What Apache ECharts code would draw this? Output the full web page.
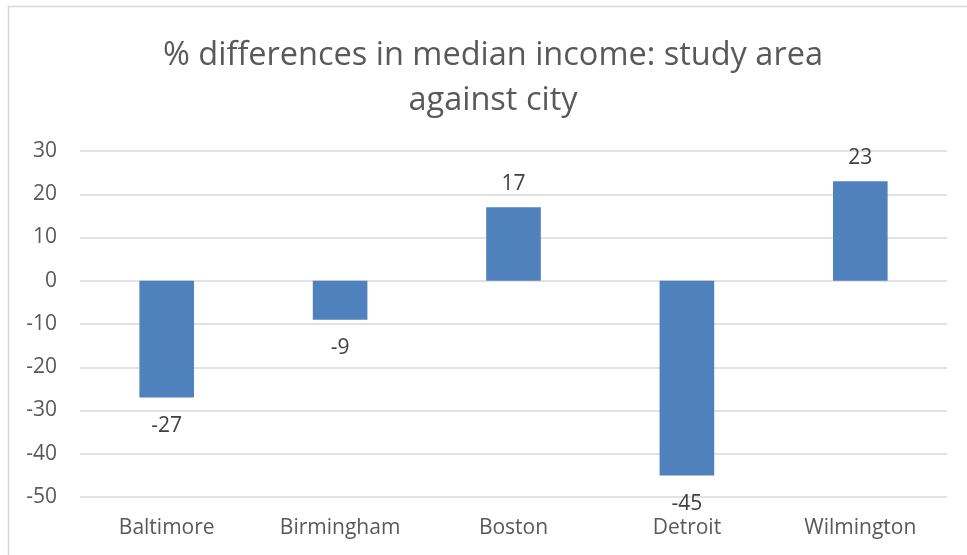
<!DOCTYPE html>
<html>
<head>
<meta charset="utf-8">
<script src="https://cdn.jsdelivr.net/npm/echarts@6/dist/echarts.min.js"></script>
<style>
  html, body { margin: 0; padding: 0; background: #fff; }
  #chart { width: 967px; height: 555px; }
</style>
</head>
<body>
<div id="chart"></div>
<script>
// data
var cities = ['Baltimore', 'Birmingham', 'Boston', 'Detroit', 'Wilmington'];
var diffs = [-27, -9, 17, -45, 23];
var yTicks = [-50, -40, -30, -20, -10, 0, 10, 20, 30];

var chart = echarts.init(document.getElementById('chart'));

var option = {
  animation: false,
  textStyle: { fontFamily: 'Open Sans' },
  title: {
    text: '% differences in median income: study area\nagainst city',
    left: 488,
    textAlign: 'center',
    top: 28,
    textStyle: {
      fontFamily: 'Open Sans',
      fontWeight: 'normal',
      fontSize: 32.5,
      lineHeight: 45,
      color: '#595959'
    }
  },
  graphic: [{
    type: 'rect',
    shape: { x: 8.5, y: 6.5, width: 1000, height: 600 },
    style: { fill: 'none', stroke: '#d9d9d9', lineWidth: 1.5 },
    silent: true
  }],
  grid: {
    left: 80,
    right: 20,
    top: 151,
    bottom: 58
  },
  xAxis: {
    type: 'category',
    data: cities,
    axisLine: { show: false },
    axisTick: { show: false },
    axisLabel: {
      margin: 21,
      fontSize: 21,
      color: '#595959',
      fontFamily: 'Open Sans'
    }
  },
  yAxis: {
    type: 'value',
    min: yTicks[0],
    max: yTicks[yTicks.length - 1],
    interval: 10,
    axisLine: { show: false },
    axisTick: { show: false },
    axisLabel: {
      margin: 23,
      fontSize: 21,
      color: '#595959',
      fontFamily: 'Open Sans'
    },
    splitLine: { lineStyle: { color: '#d9d9d9', width: 1.5 } }
  },
  series: [{
    type: 'bar',
    barWidth: '31.5%',
    itemStyle: { color: '#4F81BD' },
    data: diffs.map(function (v) {
      return {
        value: v,
        label: { position: v < 0 ? 'bottom' : 'top', distance: v < 0 ? 18 : 13 }
      };
    }),
    label: {
      show: true,
      fontSize: 21,
      color: '#404040',
      fontFamily: 'Open Sans'
    }
  }]
};

chart.setOption(option);
</script>
</body>
</html>
